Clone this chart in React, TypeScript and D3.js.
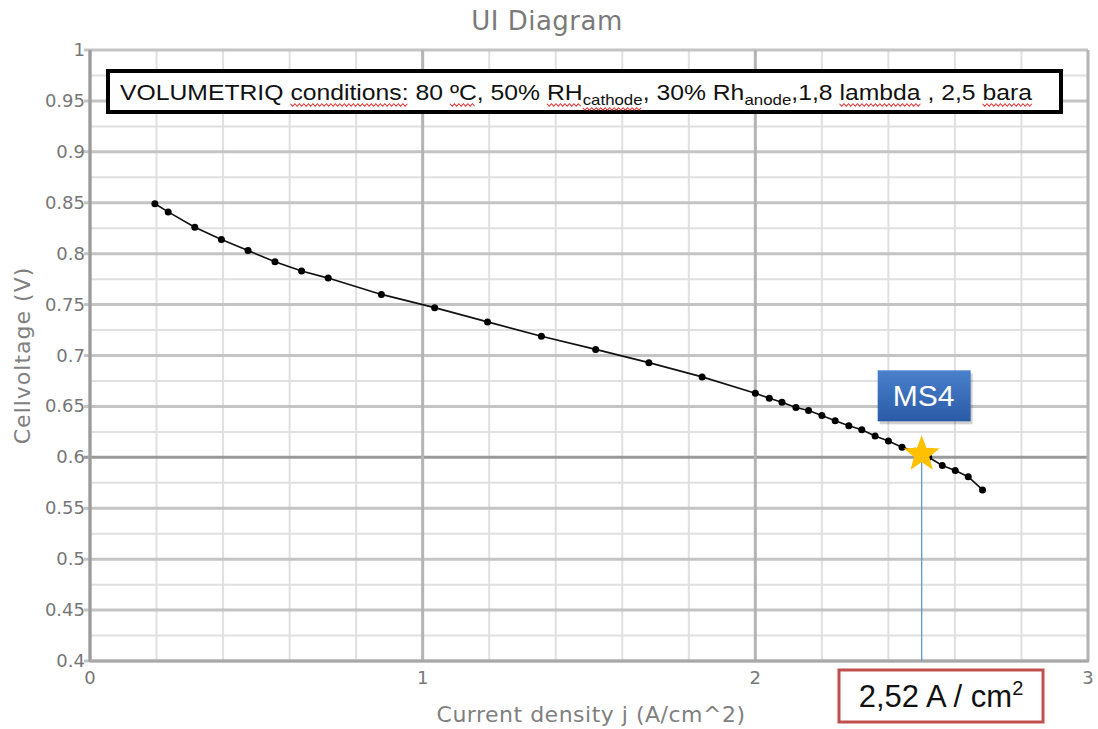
import React, { useRef, useEffect } from 'react';
import * as d3 from 'd3';

// polarization curve
const currentDensity = [
  0.195, 0.235, 0.315, 0.395, 0.475, 0.556, 0.636, 0.716, 0.876, 1.036, 1.195,
  1.357, 1.52, 1.68, 1.84, 2.0, 2.042, 2.08, 2.122, 2.16, 2.2, 2.24, 2.281,
  2.32, 2.36, 2.4, 2.441, 2.48, 2.521, 2.562, 2.601, 2.64, 2.683,
];
const cellVoltage = [
  0.849, 0.841, 0.826, 0.814, 0.803, 0.792, 0.783, 0.776, 0.76, 0.747, 0.733,
  0.719, 0.706, 0.693, 0.679, 0.663, 0.658, 0.654, 0.649, 0.646, 0.641, 0.636,
  0.631, 0.627, 0.621, 0.616, 0.61, 0.606, 0.6, 0.592, 0.587, 0.581, 0.568,
];

const xTicks = [0, 1, 2, 3];
const yTicks = [0.4, 0.45, 0.5, 0.55, 0.6, 0.65, 0.7, 0.75, 0.8, 0.85, 0.9, 0.95, 1];
const operatingPoint = { j: 2.5, v: 0.6, label: 'MS4' };

// condition banner, split so subscripts and spell-check squiggles can be laid out
const bannerParts = [
  { t: 'VOLUMETRIQ ' },
  { t: 'conditions:', sq: true },
  { t: ' 80 ' },
  { t: 'ºC', sq: true },
  { t: ', 50% ' },
  { t: 'RH', sq: true },
  { t: 'cathode', sub: true, sq: true },
  { t: ', 30% Rh' },
  { t: 'anode', sub: true },
  { t: ',1,8 ' },
  { t: 'lambda', sq: true },
  { t: ' , 2,5 ' },
  { t: 'bara', sq: true },
];

const W = 1098;
const H = 729;
const AXIS_FONT = '"DejaVu Sans", Verdana, sans-serif';
const BOX_FONT = '"Liberation Sans", Arial, sans-serif';

function starPath(cx: number, cy: number, R: number, r: number) {
  const pts: [number, number][] = [];
  for (let i = 0; i < 10; i++) {
    const a = -Math.PI / 2 + (i * Math.PI) / 5;
    const rad = i % 2 === 0 ? R : r;
    pts.push([cx + rad * Math.cos(a), cy + rad * Math.sin(a)]);
  }
  return d3.line()(pts) + 'Z';
}

function squiggle(x0: number, x1: number, y: number) {
  const pts: [number, number][] = [];
  let up = true;
  for (let x = x0; x <= x1; x += 2) {
    pts.push([x, up ? y - 1.2 : y + 1.2]);
    up = !up;
  }
  return d3.line()(pts) || '';
}

export default function App() {
  const svgRef = useRef<SVGSVGElement>(null);

  useEffect(() => {
    if (!svgRef.current) return;
    const svg = d3.select(svgRef.current);
    svg.selectAll('*').remove();

    const margin = { top: 50, right: 10, bottom: 68, left: 90 };
    const x = d3.scaleLinear().domain([0, 3]).range([margin.left, W - margin.right]);
    const y = d3.scaleLinear().domain([0.4, 1]).range([H - margin.bottom, margin.top]);

    svg.append('rect').attr('width', W).attr('height', H).attr('fill', '#fff');

    // title
    svg.append('text')
      .attr('x', 547).attr('y', 30)
      .attr('text-anchor', 'middle')
      .attr('fill', '#7a7a7a')
      .style('font-family', AXIS_FONT)
      .style('font-size', '26px')
      .style('letter-spacing', '0.5px')
      .text('UI Diagram');

    const grid = svg.append('g');
    // minor vertical
    grid.selectAll('line.vmin')
      .data(d3.range(0, 3.001, 0.2).filter(d => Math.abs(d - Math.round(d)) > 1e-6))
      .enter().append('line')
      .attr('x1', d => x(d)).attr('x2', d => x(d))
      .attr('y1', y(1)).attr('y2', y(0.4))
      .attr('stroke', '#e0e0e0').attr('stroke-width', 2);
    // minor horizontal
    grid.selectAll('line.hmin')
      .data(d3.range(0.425, 1, 0.05))
      .enter().append('line')
      .attr('x1', x(0)).attr('x2', x(3))
      .attr('y1', d => y(d)).attr('y2', d => y(d))
      .attr('stroke', '#e0e0e0').attr('stroke-width', 2);
    // major horizontal
    grid.selectAll('line.hmaj')
      .data(yTicks)
      .enter().append('line')
      .attr('x1', x(0) - 6).attr('x2', x(3))
      .attr('y1', d => y(d)).attr('y2', d => y(d))
      .attr('stroke', d => (Math.abs(d - 0.6) < 1e-6 ? '#9a9a9a' : '#c4c4c4'))
      .attr('stroke-width', 3);
    // major vertical
    grid.selectAll('line.vmaj')
      .data(xTicks)
      .enter().append('line')
      .attr('x1', d => x(d)).attr('x2', d => x(d))
      .attr('y1', y(1)).attr('y2', y(0.4))
      .attr('stroke', '#b4b4b4').attr('stroke-width', 3);

    // axes lines
    svg.append('line')
      .attr('x1', x(0)).attr('x2', x(0)).attr('y1', y(1)).attr('y2', y(0.4) + 1)
      .attr('stroke', '#9c9c9c').attr('stroke-width', 3);
    svg.append('line')
      .attr('x1', x(0)).attr('x2', x(3) + 1).attr('y1', y(0.4)).attr('y2', y(0.4))
      .attr('stroke', '#a8a8a8').attr('stroke-width', 3);

    // tick labels
    svg.append('g').selectAll('text')
      .data(yTicks)
      .enter().append('text')
      .attr('x', x(0) - 5)
      .attr('y', d => y(d) + 6)
      .attr('text-anchor', 'end')
      .attr('fill', '#777')
      .style('font-family', AXIS_FONT)
      .style('font-size', '18px')
      .text(d => String(d));
    svg.append('g').selectAll('text')
      .data(xTicks)
      .enter().append('text')
      .attr('x', d => x(d))
      .attr('y', y(0.4) + 23)
      .attr('text-anchor', 'middle')
      .attr('fill', '#777')
      .style('font-family', AXIS_FONT)
      .style('font-size', '18px')
      .text(d => String(d));

    // axis titles
    svg.append('text')
      .attr('x', 591).attr('y', 722)
      .attr('text-anchor', 'middle')
      .attr('fill', '#808080')
      .style('font-family', AXIS_FONT)
      .style('font-size', '22px')
      .style('letter-spacing', '0.5px')
      .text('Current density j (A/cm^2)');
    svg.append('text')
      .attr('transform', `translate(30,${(y(1) + y(0.4)) / 2}) rotate(-90)`)
      .attr('text-anchor', 'middle')
      .attr('fill', '#808080')
      .style('font-family', AXIS_FONT)
      .style('font-size', '22px')
      .style('letter-spacing', '1px')
      .text('Cellvoltage (V)');

    // vertical marker from the operating point down to the axis
    svg.append('line')
      .attr('x1', x(operatingPoint.j)).attr('x2', x(operatingPoint.j))
      .attr('y1', y(operatingPoint.v)).attr('y2', y(0.4))
      .attr('stroke', '#5b9bd5').attr('stroke-width', 1.3);

    // curve
    const pts = currentDensity.map((j, i) => [j, cellVoltage[i]] as [number, number]);
    svg.append('path')
      .attr('d', d3.line<[number, number]>().x(d => x(d[0])).y(d => y(d[1]))(pts) || '')
      .attr('fill', 'none')
      .attr('stroke', '#111')
      .attr('stroke-width', 1.6);
    svg.append('g').selectAll('circle')
      .data(pts)
      .enter().append('circle')
      .attr('cx', d => x(d[0])).attr('cy', d => y(d[1]))
      .attr('r', 3.5)
      .attr('fill', '#000');

    // star
    svg.append('path')
      .attr('d', starPath(x(operatingPoint.j), y(operatingPoint.v) - 3, 19, 8))
      .attr('fill', '#ffc000');

    // MS4 box
    const defs = svg.append('defs');
    const grad = defs.append('linearGradient').attr('id', 'msGrad')
      .attr('x1', 0).attr('x2', 0).attr('y1', 0).attr('y2', 1);
    grad.append('stop').attr('offset', '0%').attr('stop-color', '#4a80cc');
    grad.append('stop').attr('offset', '100%').attr('stop-color', '#2a5ba6');
    const mx = x(operatingPoint.j) + 2;
    const my = y(operatingPoint.v) - 63;
    svg.append('rect')
      .attr('x', mx - 46 + 2).attr('y', my - 24 + 3)
      .attr('width', 93).attr('height', 51)
      .attr('fill', 'rgba(0,0,0,0.18)');
    svg.append('rect')
      .attr('x', mx - 46).attr('y', my - 24)
      .attr('width', 93).attr('height', 51)
      .attr('fill', 'url(#msGrad)');
    svg.append('text')
      .attr('x', mx).attr('y', my + 12)
      .attr('text-anchor', 'middle')
      .attr('fill', '#fff')
      .style('font-family', BOX_FONT)
      .style('font-size', '30px')
      .text(operatingPoint.label);

    // value box below the axis
    svg.append('rect')
      .attr('x', 839).attr('y', 670)
      .attr('width', 204).attr('height', 52)
      .attr('fill', '#fff')
      .attr('stroke', '#c0504d')
      .attr('stroke-width', 3);
    const vt = svg.append('text')
      .attr('x', 941).attr('y', 707)
      .attr('text-anchor', 'middle')
      .attr('fill', '#111')
      .style('font-family', BOX_FONT)
      .style('font-size', '31px');
    vt.append('tspan').text('2,52 A / cm');
    vt.append('tspan').attr('dy', -12).style('font-size', '20px').text('2');

    // condition banner
    svg.append('rect')
      .attr('x', 108).attr('y', 71)
      .attr('width', 953).attr('height', 41)
      .attr('fill', '#fff')
      .attr('stroke', '#000')
      .attr('stroke-width', 4);
    const banner = svg.append('g');
    const inner = banner.append('g');
    let cx = 0;
    const base = 100;
    bannerParts.forEach(p => {
      const t = inner.append('text')
        .attr('x', cx)
        .attr('y', p.sub ? base + 5 : base)
        .attr('fill', '#111')
        .style('font-family', BOX_FONT)
        .style('font-size', p.sub ? '15px' : '22px')
        .style('white-space', 'pre')
        .text(p.t);
      const w = (t.node() as SVGTextElement).getComputedTextLength();
      if (p.sq) {
        inner.append('path')
          .attr('d', squiggle(cx, cx + w, p.sub ? base + 9 : base + 5))
          .attr('fill', 'none')
          .attr('stroke', '#e03030')
          .attr('stroke-width', 0.9);
      }
      cx += w;
    });
    // stretch to the width the banner text spans in the picture
    const sx = 912 / cx;
    inner.attr('transform', `translate(120,0) scale(${sx},1)`);
  }, []);

  return (
    <svg
      ref={svgRef}
      width={W}
      height={H}
      style={{ position: 'absolute', left: 0, top: 0 }}
    />
  );
}
